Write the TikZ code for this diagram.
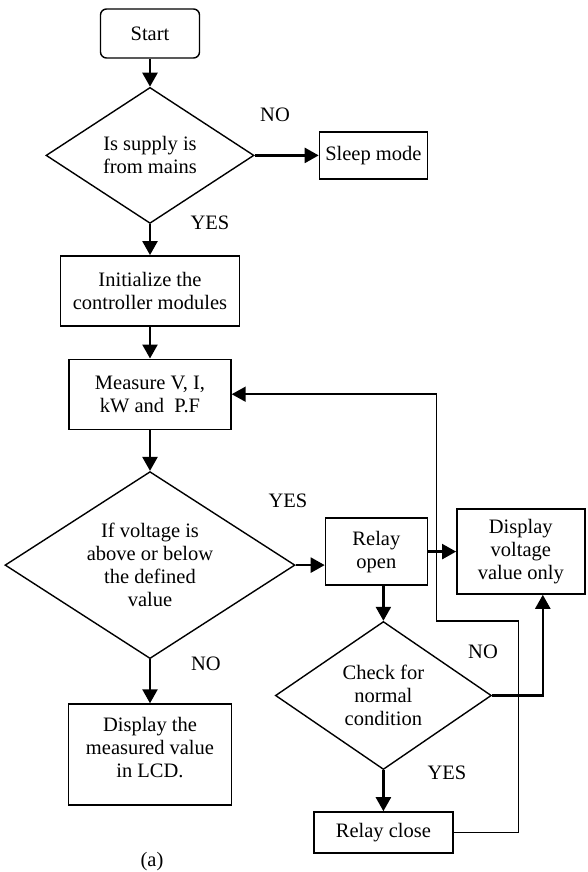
\documentclass[tikz,border=0pt]{standalone}
\usepackage{fontspec}
\setmainfont{Liberation Serif}
\usetikzlibrary{shapes.geometric, arrows.meta, calc, positioning}
\tikzstyle{startstop} = [rectangle, rounded corners=6pt, line width=1.4pt, minimum width=99pt, minimum height=49pt, text centered, draw=black]
\tikzstyle{block} = [rectangle, line width=1.4pt, text centered, align=center, draw=black]
\tikzstyle{decision} = [diamond, line width=1.4pt, inner sep=0pt, align=center, draw=black]
\tikzstyle{arrow} = [line width=2.4pt, -{Triangle[length=14pt,width=15pt]}]
\tikzstyle{loopline} = [line width=1.6pt, -{Triangle[length=14pt,width=15pt]}]
\tikzstyle{tag} = [inner sep=0pt]

\begin{document}
\begin{tikzpicture}[x=1pt, y=1pt, font=\fontsize{20.5pt}{23pt}\selectfont]
	\useasboundingbox (0,0) rectangle (587,-872);
	% main column
	\node (Start) [startstop] at (150,-33.5) {Start};
	\node (Supply) [decision, aspect=1.53, minimum width=208pt, minimum height=136pt, below = 28pt of Start] {Is supply is\\from mains};
	\node (Sleep) [block, minimum width=108pt, minimum height=47pt, right = 64pt of Supply] {Sleep mode};
	\node (Init) [block, minimum width=179pt, minimum height=70pt, below = 31pt of Supply] {Initialize the\\controller modules};
	\node (Measure) [block, minimum width=162pt, minimum height=70pt, below = 32pt of Init] {Measure V, I,\\kW and\enspace P.F};
	\node (Voltage) [decision, aspect=1.55, minimum width=290pt, minimum height=187pt, below = 41pt of Measure] {If voltage is\\above or below\\the defined\\value};
	\node (DisplayLCD) [block, minimum width=163pt, minimum height=101pt, below = 44pt of Voltage] {Display the\\measured value\\in LCD.\\[-8pt]};
	% relay branch
	\node (RelayOpen) [block, minimum width=102pt, minimum height=67pt, right = 29pt of Voltage, yshift=13.5pt] {Relay\\open};
	\node (DisplayV) [block, minimum width=128pt, minimum height=85pt, right = 28pt of RelayOpen] {Display\\voltage\\value only};
	\node (Check) [decision, aspect=1.46, minimum width=216pt, minimum height=148pt, below = 35pt of RelayOpen, xshift=7pt] {Check for\\normal\\condition};
	\node (RelayClose) [block, minimum width=139pt, minimum height=41pt, below = 41pt of Check] {Relay close};
	\coordinate (LoopA) at ($(RelayClose.east)+(65pt,0)$);
	\coordinate (LoopB) at ($(Check.north)+(53pt,0)$);
	\coordinate (DispIn) at ($(DisplayV.south)+(22pt,0)$);
	% labels
	\node (NoSleep) [tag] at (275,-115) {NO};
	\node (YesSupply) [tag] at (210,-223) {YES};
	\node (YesVoltage) [tag] at (288,-501) {YES};
	\node (NoVoltage) [tag] at (206,-664) {NO};
	\node (NoCheck) [tag] at (483,-652) {NO};
	\node (YesCheck) [tag] at (447,-773) {YES};
	\node (Caption) [tag] at (152,-862) {(a)};
	% connectors
	\draw [arrow] (Start) -- (Supply);
	\draw [arrow] (Supply.east) -- (Supply.east -| Sleep.west);
	\draw [arrow] (Supply) -- (Init);
	\draw [arrow] (Init) -- (Measure);
	\draw [arrow] (Measure) -- (Voltage);
	\draw [arrow] (Voltage) -- (DisplayLCD);
	\draw [arrow] (Voltage.east) -- (Voltage.east -| RelayOpen.west);
	\draw [arrow] (RelayOpen) -- (DisplayV);
	\draw [arrow] (Check.north |- RelayOpen.south) -- (Check.north);
	\draw [arrow] (Check.east) -| (DispIn);
	\draw [arrow] (Check) -- (RelayClose);
	\draw [loopline] (RelayClose.east) -- (LoopA) |- (LoopB) |- (Measure.east);
\end{tikzpicture}
\end{document}
